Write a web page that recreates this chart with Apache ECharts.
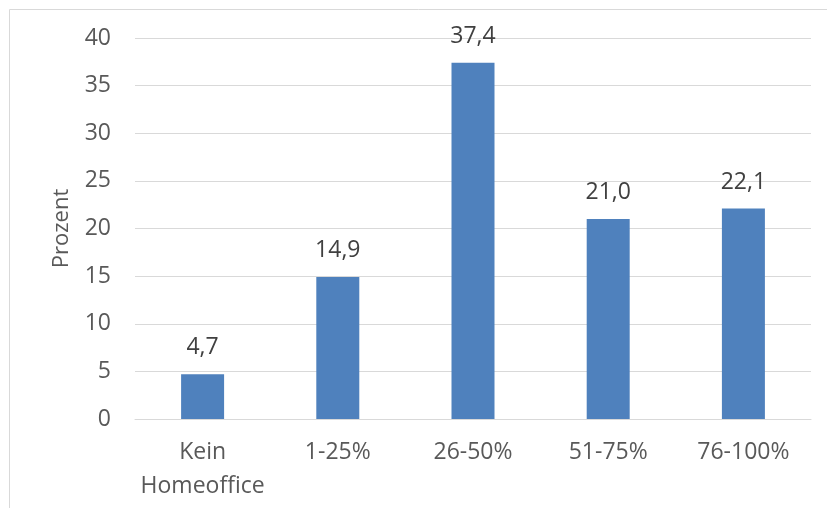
<!DOCTYPE html>
<html>
<head>
<meta charset="utf-8">
<script src="https://cdn.jsdelivr.net/npm/echarts@6/dist/echarts.min.js"></script>
<style>
  html, body { margin: 0; padding: 0; background: #fff; }
  #chart { width: 827px; height: 508px; }
</style>
</head>
<body>
<div id="chart"></div>
<script>
// Anteil der Arbeitszeit im Homeoffice
const categories = ['Kein\nHomeoffice', '1-25%', '26-50%', '51-75%', '76-100%'];
const values = [4.7, 14.9, 37.4, 21.0, 22.1];
const yTicks = { min: 0, max: 40, interval: 5 };

const textColor = '#595959';
const fontFamily = '"Open Sans", "Noto Sans", sans-serif';

const chart = echarts.init(document.getElementById('chart'));
chart.setOption({
  animation: false,
  textStyle: { fontFamily: fontFamily },
  graphic: [{
    type: 'rect',
    shape: { x: 9.5, y: 9.5, width: 900, height: 600 },
    style: { fill: 'none', stroke: '#d9d9d9', lineWidth: 1 },
    silent: true
  }],
  grid: { left: 135, right: 16, top: 38, bottom: 89 },
  xAxis: {
    type: 'category',
    data: categories,
    axisLine: { lineStyle: { color: '#d9d9d9', width: 1 } },
    axisTick: { show: false },
    axisLabel: { interval: 0, color: textColor, fontSize: 23, margin: 16, lineHeight: 34, fontFamily: fontFamily }
  },
  yAxis: {
    type: 'value',
    min: yTicks.min,
    max: yTicks.max,
    interval: yTicks.interval,
    name: 'Prozent',
    nameLocation: 'middle',
    nameGap: 62,
    nameTextStyle: { color: textColor, fontSize: 22, fontFamily: fontFamily },
    axisLine: { show: false },
    axisTick: { show: false },
    axisLabel: { color: textColor, fontSize: 23, margin: 24, fontFamily: fontFamily },
    splitLine: { lineStyle: { color: '#d9d9d9', width: 1 } }
  },
  series: [{
    type: 'bar',
    data: values,
    barWidth: 43,
    itemStyle: { color: '#4f81bd' },
    label: {
      show: true,
      position: 'top',
      distance: 15,
      color: '#404040',
      fontSize: 23,
      fontFamily: fontFamily,
      formatter: p => p.value.toFixed(1).replace('.', ',')
    }
  }]
});
</script>
</body>
</html>
